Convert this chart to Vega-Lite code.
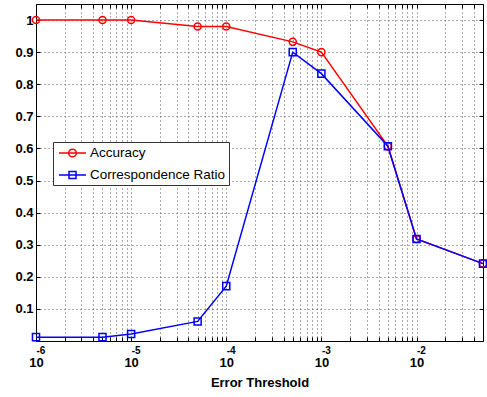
{
  "$schema": "https://vega.github.io/schema/vega-lite/v6.json",
  "width": 447,
  "height": 337,
  "autosize": "none",
  "padding": {"left": 36, "top": 4, "right": 4, "bottom": 56},
  "background": "white",
  "config": {"view": {"stroke": null}, "font": "Liberation Sans"},
  "data": {
    "values": [
      {"t": 0.000001, "series": "Accuracy", "v": 1.0},
      {"t": 0.000005, "series": "Accuracy", "v": 1.0},
      {"t": 0.00001, "series": "Accuracy", "v": 1.0},
      {"t": 0.00005, "series": "Accuracy", "v": 0.98},
      {"t": 0.0001, "series": "Accuracy", "v": 0.98},
      {"t": 0.0005, "series": "Accuracy", "v": 0.932},
      {"t": 0.001, "series": "Accuracy", "v": 0.90},
      {"t": 0.005, "series": "Accuracy", "v": 0.607},
      {"t": 0.01, "series": "Accuracy", "v": 0.318},
      {"t": 0.05, "series": "Accuracy", "v": 0.241},
      {"t": 0.000001, "series": "Correspondence Ratio", "v": 0.012},
      {"t": 0.000005, "series": "Correspondence Ratio", "v": 0.012},
      {"t": 0.00001, "series": "Correspondence Ratio", "v": 0.022},
      {"t": 0.00005, "series": "Correspondence Ratio", "v": 0.061},
      {"t": 0.0001, "series": "Correspondence Ratio", "v": 0.171},
      {"t": 0.0005, "series": "Correspondence Ratio", "v": 0.90},
      {"t": 0.001, "series": "Correspondence Ratio", "v": 0.833},
      {"t": 0.005, "series": "Correspondence Ratio", "v": 0.607},
      {"t": 0.01, "series": "Correspondence Ratio", "v": 0.318},
      {"t": 0.05, "series": "Correspondence Ratio", "v": 0.241}
    ]
  },
  "resolve": {
    "scale": {"color": "independent", "shape": "independent"},
    "axis": {"x": "independent", "y": "independent"}
  },
  "layer": [
    {
      "mark": {"type": "line", "strokeWidth": 1.5},
      "encoding": {
        "x": {
          "field": "t", "type": "quantitative",
          "scale": {"type": "log", "domain": [0.000001, 0.05], "nice": false},
          "axis": {
            "orient": "bottom",
            "values": [0.000001, 0.000002, 0.000003, 0.000004, 0.000005, 0.000006, 0.000007, 0.000008, 0.000009,
                       0.00001, 0.00002, 0.00003, 0.00004, 0.00005, 0.00006, 0.00007, 0.00008, 0.00009,
                       0.0001, 0.0002, 0.0003, 0.0004, 0.0005, 0.0006, 0.0007, 0.0008, 0.0009,
                       0.001, 0.002, 0.003, 0.004, 0.005, 0.006, 0.007, 0.008, 0.009,
                       0.01, 0.02, 0.03, 0.04, 0.05],
            "labelExpr": "abs(log(datum.value)/LN10 - round(log(datum.value)/LN10)) < 0.001 ? '10' : ''",
            "grid": true, "gridDash": [1, 3], "gridColor": "#555", "gridWidth": 1,
            "tickSize": -4, "tickColor": "#000", "domainColor": "#000",
            "labelFont": "Liberation Sans", "labelFontSize": 13, "labelFontWeight": "bold", "labelColor": "#000",
            "labelBaseline": "alphabetic", "labelPadding": 29, "labelDx": -4,
            "labelOverlap": false, "labelFlush": false, "labelBound": false,
            "title": "Error Threshold", "titleFont": "Liberation Sans", "titleFontSize": 13,
            "titleFontWeight": "bold", "titleColor": "#000", "titlePadding": 7
          }
        },
        "y": {
          "field": "v", "type": "quantitative",
          "scale": {"domain": [0, 1.05], "nice": false, "zero": false},
          "axis": {
            "orient": "left",
            "values": [0.1, 0.2, 0.3, 0.4, 0.5, 0.6, 0.7, 0.8, 0.9, 1.0],
            "labelExpr": "'' + round(datum.value*10)/10",
            "grid": true, "gridDash": [1, 3], "gridColor": "#555", "gridWidth": 1,
            "tickSize": -4, "tickColor": "#000", "domainColor": "#000",
            "labelFont": "Liberation Sans", "labelFontSize": 13, "labelFontWeight": "bold", "labelColor": "#000",
            "labelPadding": 7, "labelOverlap": false, "labelFlush": false,
            "title": null
          }
        },
        "color": {
          "field": "series", "type": "nominal",
          "scale": {"domain": ["Accuracy", "Correspondence Ratio"], "range": ["#ff0000", "#0000ff"]},
          "legend": null
        }
      }
    },
    {
      "mark": {"type": "point", "filled": false, "strokeWidth": 1.5, "size": 50, "opacity": 1},
      "encoding": {
        "x": {
          "field": "t", "type": "quantitative",
          "scale": {"type": "log", "domain": [0.000001, 0.05], "nice": false},
          "axis": {
            "orient": "bottom",
            "values": [0.000001, 0.00001, 0.0001, 0.001, 0.01],
            "labelExpr": "'' + round(log(datum.value)/LN10)",
            "grid": false, "ticks": false, "domain": false,
            "labelFont": "Liberation Sans", "labelFontSize": 10, "labelFontWeight": "bold", "labelColor": "#000",
            "labelBaseline": "alphabetic", "labelPadding": 12, "labelAlign": "left", "labelDx": 4,
            "labelOverlap": false, "labelFlush": false, "labelBound": false,
            "title": null
          }
        },
        "y": {
          "field": "v", "type": "quantitative",
          "scale": {"domain": [0, 1.05], "nice": false, "zero": false},
          "axis": {
            "orient": "right",
            "values": [0.1, 0.2, 0.3, 0.4, 0.5, 0.6, 0.7, 0.8, 0.9, 1.0],
            "labels": false, "grid": false,
            "tickSize": -4, "tickColor": "#000", "domainColor": "#000",
            "title": null
          }
        },
        "color": {
          "field": "series", "type": "nominal",
          "scale": {"domain": ["Accuracy", "Correspondence Ratio"], "range": ["#ff0000", "#0000ff"]},
          "legend": null
        },
        "shape": {
          "field": "series", "type": "nominal",
          "scale": {"domain": ["Accuracy", "Correspondence Ratio"], "range": ["circle", "square"]},
          "legend": null
        }
      }
    },
    {
      "transform": [{"filter": "false"}],
      "mark": {"type": "point", "filled": false, "strokeWidth": 1.5, "opacity": 1},
      "encoding": {
        "x": {
          "field": "t", "type": "quantitative",
          "scale": {"type": "log", "domain": [0.000001, 0.05], "nice": false},
          "axis": {
            "orient": "top",
            "values": [0.000001, 0.000002, 0.000003, 0.000004, 0.000005, 0.000006, 0.000007, 0.000008, 0.000009,
                       0.00001, 0.00002, 0.00003, 0.00004, 0.00005, 0.00006, 0.00007, 0.00008, 0.00009,
                       0.0001, 0.0002, 0.0003, 0.0004, 0.0005, 0.0006, 0.0007, 0.0008, 0.0009,
                       0.001, 0.002, 0.003, 0.004, 0.005, 0.006, 0.007, 0.008, 0.009,
                       0.01, 0.02, 0.03, 0.04, 0.05],
            "labels": false, "grid": false,
            "tickSize": -4, "tickColor": "#000", "domainColor": "#000",
            "title": null
          }
        },
        "y": {
          "field": "v", "type": "quantitative",
          "scale": {"domain": [0, 1.05], "nice": false, "zero": false},
          "axis": null
        },
        "color": {
          "field": "series", "type": "nominal",
          "scale": {"domain": ["Accuracy", "Correspondence Ratio"], "range": ["#ff0000", "#0000ff"]},
          "legend": {
            "orient": "none", "legendX": 17, "legendY": 138, "title": null,
            "padding": 3, "strokeColor": "#333", "fillColor": "#ffffff",
            "labelFont": "Liberation Sans", "labelFontSize": 13.5, "labelColor": "#000",
            "symbolSize": 196, "symbolStrokeWidth": 1.5, "rowPadding": 7,
            "symbolOffset": 8.5, "labelOffset": 9.5, "symbolFillColor": "transparent"
          }
        },
        "shape": {
          "field": "series", "type": "nominal",
          "scale": {
            "domain": ["Accuracy", "Correspondence Ratio"],
            "range": [
              "M-1.93,0L1.93,0M0.55,0A0.55,0.55,0,1,1,-0.55,0A0.55,0.55,0,1,1,0.55,0Z",
              "M-1.93,0L1.93,0M-0.5,-0.5L0.5,-0.5L0.5,0.5L-0.5,0.5Z"
            ]
          },
          "legend": {
            "orient": "none", "legendX": 17, "legendY": 138, "title": null,
            "padding": 3, "strokeColor": "#333", "fillColor": "#ffffff",
            "labelFont": "Liberation Sans", "labelFontSize": 13.5, "labelColor": "#000",
            "symbolSize": 196, "symbolStrokeWidth": 1.5, "rowPadding": 7,
            "symbolOffset": 8.5, "labelOffset": 9.5, "symbolFillColor": "transparent"
          }
        }
      }
    }
  ]
}
